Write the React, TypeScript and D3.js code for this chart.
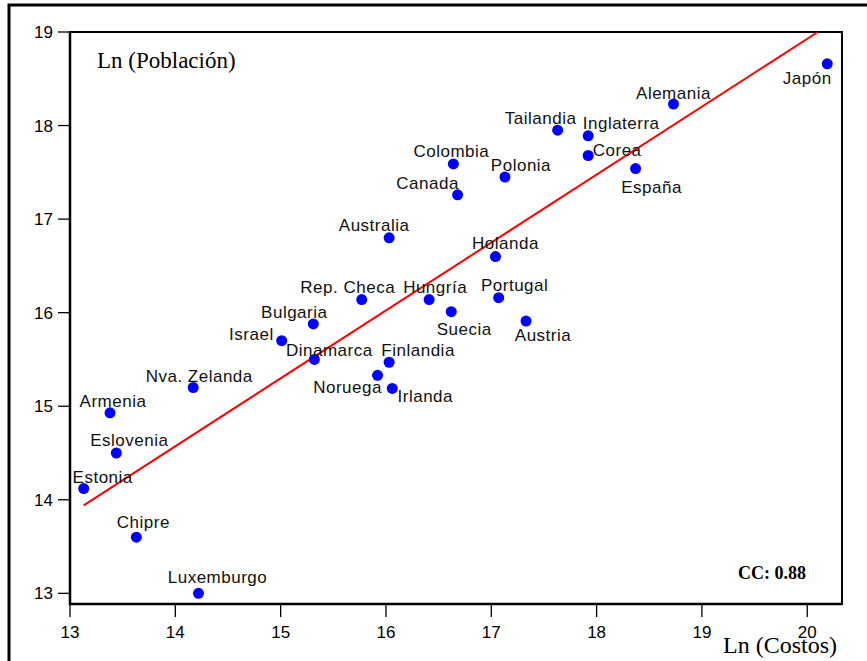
import React from 'react';
import * as d3 from 'd3';

// Ln(Costos) vs Ln(Población) by country
const countries = [
  'Japón', 'Alemania', 'Tailandia', 'Inglaterra', 'Corea', 'España', 'Colombia',
  'Polonia', 'Canada', 'Australia', 'Holanda', 'Rep. Checa', 'Hungría', 'Portugal',
  'Suecia', 'Austria', 'Bulgaria', 'Israel', 'Dinamarca', 'Finlandia', 'Noruega',
  'Irlanda', 'Nva. Zelanda', 'Armenia', 'Eslovenia', 'Estonia', 'Chipre', 'Luxemburgo',
];
const lnCostos = [
  20.19, 18.73, 17.63, 17.92, 17.92, 18.37, 16.64,
  17.13, 16.68, 16.03, 17.04, 15.77, 16.41, 17.07,
  16.62, 17.33, 15.31, 15.01, 15.32, 16.03, 15.92,
  16.06, 14.17, 13.38, 13.44, 13.13, 13.63, 14.22,
];
const lnPoblacion = [
  18.66, 18.23, 17.95, 17.89, 17.68, 17.54, 17.59,
  17.45, 17.26, 16.80, 16.60, 16.14, 16.14, 16.16,
  16.01, 15.91, 15.88, 15.70, 15.50, 15.47, 15.33,
  15.19, 15.20, 14.93, 14.50, 14.12, 13.60, 13.00,
];
// fitted line end points [x, y]
const fitLine: [number, number][] = [[13.13, 13.94], [20.10, 19.0]];
const xTicks = [13, 14, 15, 16, 17, 18, 19, 20];
const yTicks = [13, 14, 15, 16, 17, 18, 19];
const cc = 'CC: 0.88';

// label placement: [dx, dy, anchor]
const labelPos: Record<string, [number, number, string]> = {
  'Japón': [-20, 20, 'middle'],
  'Alemania': [0, -5, 'middle'],
  'Tailandia': [-17, -6, 'middle'],
  'Inglaterra': [33, -7, 'middle'],
  'Corea': [29, 1, 'middle'],
  'España': [16, 24, 'middle'],
  'Colombia': [-2, -7, 'middle'],
  'Polonia': [16, -6, 'middle'],
  'Canada': [-30, -6, 'middle'],
  'Australia': [-15, -7, 'middle'],
  'Holanda': [10, -8, 'middle'],
  'Rep. Checa': [-14, -7, 'middle'],
  'Hungría': [6, -7, 'middle'],
  'Portugal': [16, -7, 'middle'],
  'Suecia': [13, 23, 'middle'],
  'Austria': [17, 20, 'middle'],
  'Bulgaria': [-19, -6, 'middle'],
  'Israel': [-8, -1, 'end'],
  'Dinamarca': [15, -3, 'middle'],
  'Finlandia': [29, -6, 'middle'],
  'Noruega': [-30, 18, 'middle'],
  'Irlanda': [33, 14, 'middle'],
  'Nva. Zelanda': [6, -6, 'middle'],
  'Armenia': [3, -6, 'middle'],
  'Eslovenia': [13, -7, 'middle'],
  'Estonia': [19, -6, 'middle'],
  'Chipre': [7, -9, 'middle'],
  'Luxemburgo': [19, -10, 'middle'],
};

const W = 867;
const H = 661;
const plot = { left: 70, top: 32, right: 842, bottom: 604 };

export default function App() {
  const x = d3.scaleLinear().domain([13, 20.33]).range([plot.left, plot.right]);
  const y = d3.scaleLinear().domain([12.886, 19.0]).range([plot.bottom, plot.top]);
  const line = d3.line<[number, number]>().x(d => x(d[0])).y(d => y(d[1]));
  const sans = 'Arial, "Liberation Sans", sans-serif';
  const serif = '"Times New Roman", "Liberation Serif", serif';

  return (
    <div style={{ position: 'absolute', left: 0, top: 0 }}>
      <svg width={W} height={H} style={{ display: 'block', background: '#fff' }}>
        <rect x={9} y={5} width={W + 20} height={H + 20} fill="#fff" stroke="#000" strokeWidth={3} />
        <rect x={plot.left} y={plot.top} width={plot.right - plot.left} height={plot.bottom - plot.top}
          fill="none" stroke="#000" strokeWidth={2} />
        <line x1={plot.left} x2={plot.left} y1={plot.top} y2={plot.bottom + 1} stroke="#000" strokeWidth={2.5} />
        <line x1={plot.left - 1} x2={plot.right} y1={plot.bottom} y2={plot.bottom} stroke="#000" strokeWidth={2.5} />

        {yTicks.map(t => (
          <g key={'y' + t}>
            <line x1={plot.left - 12} x2={plot.left} y1={y(t)} y2={y(t)} stroke="#000" strokeWidth={1.3} />
            <text x={plot.left - 17} y={y(t) + 6} textAnchor="end" fontFamily={sans} fontSize={17} fill="#000">{t}</text>
          </g>
        ))}
        {xTicks.map(t => (
          <g key={'x' + t}>
            <line x1={x(t)} x2={x(t)} y1={plot.bottom} y2={plot.bottom + 13} stroke="#000" strokeWidth={1.3} />
            <text x={x(t)} y={plot.bottom + 34} textAnchor="middle" fontFamily={sans} fontSize={17} fill="#000">{t}</text>
          </g>
        ))}

        <path d={line(fitLine) || ''} fill="none" stroke="#ff0000" strokeWidth={2} />

        {countries.map((c, i) => {
          const px = x(lnCostos[i]);
          const py = y(lnPoblacion[i]);
          const [dx, dy, anchor] = labelPos[c];
          return (
            <g key={c}>
              <circle cx={px} cy={py} r={5.5} fill="#0000ff" />
              <text x={px + dx} y={py + dy} textAnchor={anchor as any} fontFamily={sans} fontSize={17}
                letterSpacing={0.5} fill="#111">{c}</text>
            </g>
          );
        })}

        <text x={97} y={68} fontFamily={serif} fontSize={23} fill="#000">Ln (Población)</text>
        <text x={837} y={653} textAnchor="end" fontFamily={serif} fontSize={24} fill="#000">Ln (Costos)</text>
        <text x={806} y={579} textAnchor="end" fontFamily={serif} fontWeight="bold" fontSize={18} fill="#000">{cc}</text>
      </svg>
    </div>
  );
}
